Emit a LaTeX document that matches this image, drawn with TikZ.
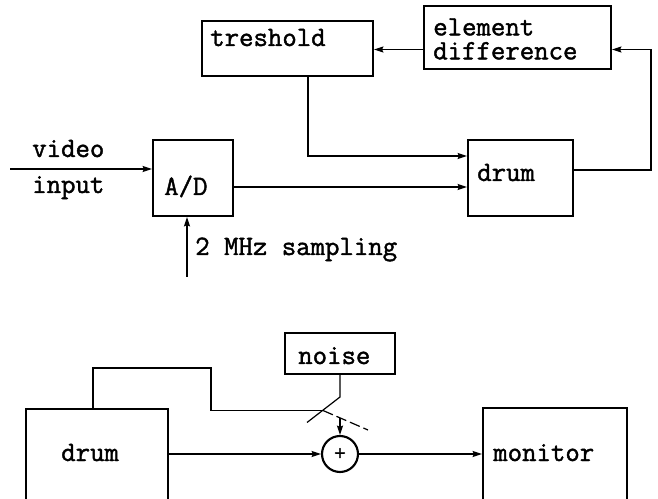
\documentclass[tikz,border=0pt]{standalone}
\usepackage{fontspec}
\newfontfamily\tw{Latin Modern Mono}[FakeBold=1.5]
\usetikzlibrary{arrows.meta}
\begin{document}
\begin{tikzpicture}[x=0.75pt,y=-0.75pt,
  box/.style={draw,line width=1.6pt,rectangle,inner sep=0pt},
  lbl/.style={inner sep=0pt,anchor=base west,font=\fontsize{21}{18}\tw},
  conn/.style={line width=0.9pt},
  arr/.style={conn,-{Stealth[length=7pt,width=4.5pt,inset=1pt]}},
  sw/.style={line width=0.9pt}]
\clip (0,0) rectangle (658,499);
\fill[white] (0,0) rectangle (658,499);
% ---- upper diagram ----
\node[box,minimum width=128.25pt,minimum height=41.25pt] (tresh) at (287.5,48.5) {};
\node[box,minimum width=140.25pt,minimum height=47pt] (elem) at (517.5,37.5) {};
\node[box,minimum width=60pt,minimum height=57pt] (AD) at (193,178) {};
\node[box,minimum width=78.75pt,minimum height=57pt] (drumA) at (520.5,178) {};
\node[lbl] (treshtxt) at (210,46) {treshold};
\node[lbl,anchor=north west,align=left] (elemtxt) at (433,18) {element\\difference};
\node[lbl] (adtxt) at (164,195) {A/D};
\node[lbl] (drumAtxt) at (477,181) {drum};
\node[lbl] (videotxt) at (32,157) {video};
\node[lbl] (inputtxt) at (32,193) {input};
\node[lbl] (smptxt) at (195,255) {2 MHz sampling};
\coordinate (vin) at (10,169);
\coordinate (smp) at (187,277);
\coordinate (fbx) at (651,0);
\coordinate (d1fb) at ([yshift=6pt]drumA.east);
\coordinate (elin) at ([yshift=-9pt]elem.east);
\coordinate (adout) at ([yshift=-6.75pt]AD.east);
\coordinate (trout) at ([xshift=15.4pt]tresh.south);
\coordinate (drin) at ([yshift=16.5pt]drumA.west);
\draw[arr] (vin) -- (vin -| AD.west);
\draw[arr] (adout) -- (adout -| drumA.west);
\draw[arr] (trout) |- (drin);
\draw[arr] (d1fb) -| (fbx |- elin) -- (elin);
\draw[arr] (elin -| elem.west) -- (elin -| tresh.east);
\draw[arr] (smp) -- (smp |- AD.south);
% ---- lower diagram ----
\node[box,minimum width=82.5pt,minimum height=30.75pt] (noise) at (340,353.5) {};
\node[box,minimum width=106.5pt,minimum height=90pt] (drumB) at (97,469) {};
\node[box,minimum width=108pt,minimum height=90pt] (monitor) at (555,468) {};
\node[draw,circle,line width=1.6pt,minimum size=27pt,inner sep=0pt,font=\fontsize{17}{17}\tw] (sum) at (340,454) {+};
\node[lbl] (noisetxt) at (298,364) {noise};
\node[lbl] (drumBtxt) at (61,461) {drum};
\node[lbl] (montxt) at (493,461) {monitor};
\coordinate (d2top) at ([xshift=-3pt]drumB.north);
\coordinate (lp1) at (211,368);
\coordinate (piv) at (323,410.5);
\coordinate (bend) at (340,397);
\coordinate (armend) at (307,422.5);
\coordinate (dashend) at (368,430);
\coordinate (swout) at (340,418);
\coordinate (d2out) at ([yshift=11.25pt]drumB.east);
\draw[conn] (d2top) |- (lp1) |- (piv);
\draw[sw] (noise.south) -- (bend) -- (armend);
\draw[sw,dash pattern=on 8pt off 3pt] (piv) -- (dashend);
\draw[arr] (swout) -- (sum.north);
\draw[arr] (d2out) -- (sum.west);
\draw[arr] (sum.east) -- (sum.east -| monitor.west);
\end{tikzpicture}
\end{document}
